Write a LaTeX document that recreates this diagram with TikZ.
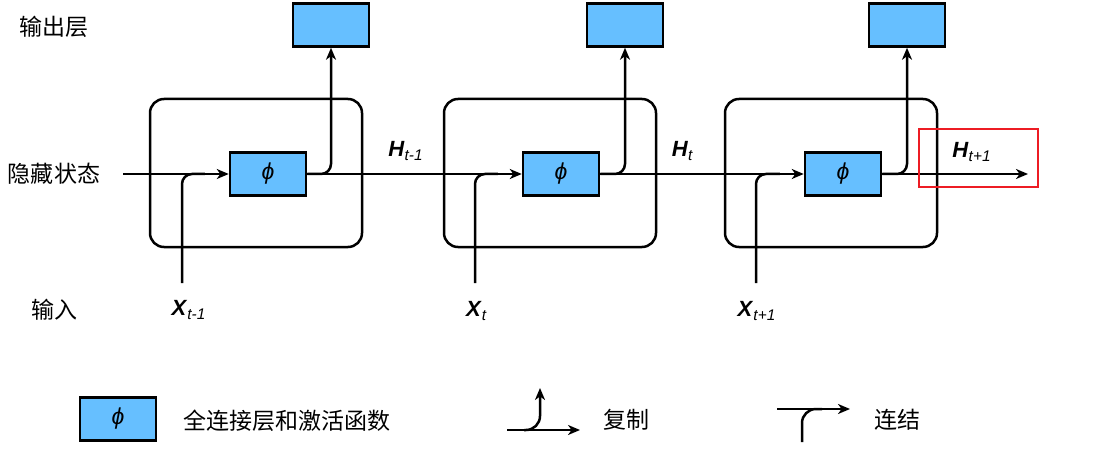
\documentclass[tikz,border=0pt]{standalone}
\usepackage{fontspec}
\setmainfont{Liberation Sans}
\newfontfamily\cjk{Noto Sans CJK SC}
\usetikzlibrary{arrows.meta,positioning}
\definecolor{cellblue}{RGB}{102,191,255}
\definecolor{markred}{RGB}{237,28,36}
\newcommand{\phisym}{\textit{ϕ}}

\begin{document}
\begin{tikzpicture}[x=0.5pt,y=-0.5pt,
    phibox/.style={draw=black,fill=cellblue,line width=1.25pt,
                minimum width=38pt,minimum height=21.5pt,inner sep=0pt,
                font=\fontsize{11.5}{12}\selectfont},
    cell/.style={draw=black,line width=1.25pt,rounded corners=7pt,
                minimum width=106pt,minimum height=74pt},
    arr/.style={-{Stealth[length=6pt,width=5pt,inset=1.8pt]},line width=1.25pt},
    wire/.style={line width=1.25pt},
    cjklabel/.style={font=\cjk\fontsize{11.5}{13}\selectfont},
    var/.style={font=\fontsize{11}{12}\selectfont}
  ]
    \useasboundingbox (0,0) rectangle (1112,454);
    % cells
    \node[cell] (cell1) at (256,173) {};
    \node[cell] (cell2) at (550,173) {};
    \node[cell] (cell3) at (831,173) {};
    % output layer
    \node[phibox] (out1) at (331,25) {};
    \node[phibox] (out2) at (625,25) {};
    \node[phibox] (out3) at (907,25) {};
    % free ends
    \coordinate (hin) at (123,174);
    \coordinate (hout) at (1028,174);
    \coordinate (in1) at (182,283);
    \coordinate (in2) at (475,283);
    \coordinate (in3) at (756,283);
    % phi boxes
    \node[phibox] (phi1) at (268,174) {\phisym};
    \node[phibox] (phi2) at (561,174) {\phisym};
    \node[phibox] (phi3) at (843,174) {\phisym};
    % hidden state
    \draw[arr] (hin) -- (phi1.west);
    \draw[arr] (phi1.east) -- (phi2.west);
    \draw[arr] (phi2.east) -- (phi3.west);
    \draw[arr] (phi3.east) -- (hout);
    % inputs
    \draw[wire,rounded corners=5pt] (in1) |- ([xshift=-12pt]phi1.west);
    \draw[wire,rounded corners=5pt] (in2) |- ([xshift=-12pt]phi2.west);
    \draw[wire,rounded corners=5pt] (in3) |- ([xshift=-12pt]phi3.west);
    % outputs
    \draw[arr,rounded corners=5pt] (phi1.east) -| (out1.south);
    \draw[arr,rounded corners=5pt] (phi2.east) -| (out2.south);
    \draw[arr,rounded corners=5pt] (phi3.east) -| (out3.south);
    % labels
    \node[cjklabel] (lout) at (54,27) {输出层};
    \node[cjklabel] (lhid) at (54,174) {隐藏状态};
    \node[cjklabel] (lin) at (55,310) {输入};
    \node[var] (h1) at (406,151) {\textbf{\textit{H}}\textsubscript{\textit{t-1}}};
    \node[var] (h2) at (683,151) {\textbf{\textit{H}}\textsubscript{\textit{t}}};
    \node[var] (h3) at (972,152) {\textbf{\textit{H}}\textsubscript{\textit{t+1}}};
    \node[var] (x1) at (189,310) {\textbf{\textit{X}}\textsubscript{\textit{t-1}}};
    \node[var] (x2) at (477,311) {\textbf{\textit{X}}\textsubscript{\textit{t}}};
    \node[var] (x3) at (757,311) {\textbf{\textit{X}}\textsubscript{\textit{t+1}}};
    \draw[markred,line width=1.25pt] (919,129) rectangle (1038,187);
    % legend
    \node[phibox] (legphi) at (118,419) {\phisym};
    \node[cjklabel,anchor=west] (legfc) at (176,421) {全连接层和激活函数};
    \coordinate (cpa) at (507,430);
    \coordinate (cpb) at (580,430);
    \coordinate (cpj) at (524,430);
    \coordinate (cpt) at (540,388);
    \draw[arr] (cpa) -- (cpb);
    \draw[arr,rounded corners=7pt] (cpj) -| (cpt);
    \node[cjklabel] (legcp) at (626,420) {复制};
    \coordinate (cta) at (777,409);
    \coordinate (ctb) at (850,409);
    \coordinate (ctv) at (802,442);
    \coordinate (ctj) at (822,409);
    \draw[arr] (cta) -- (ctb);
    \draw[wire,rounded corners=7pt] (ctv) |- (ctj);
    \node[cjklabel] (legct) at (897,420) {连结};
  \end{tikzpicture}
\end{document}
